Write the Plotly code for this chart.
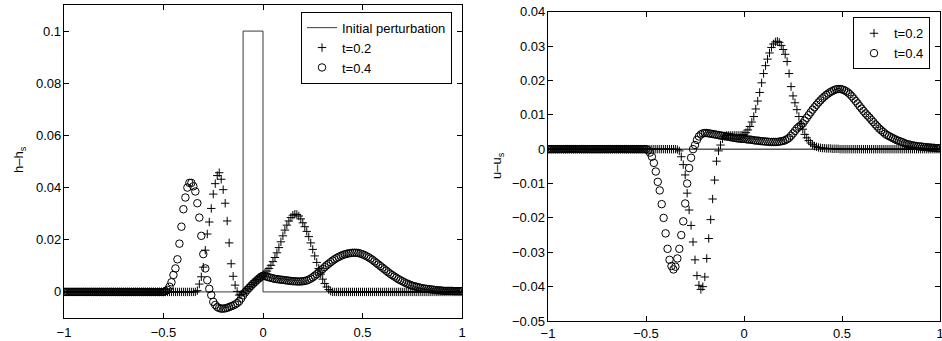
import numpy as np
import plotly.graph_objects as go

# ---------------- data ----------------
# spatial grid used by the solver (x = -1.00, -0.99, ..., 1.00)
X_GRID = np.round(np.linspace(-1.0, 1.0, 201), 2)

# initial perturbation of h (step) and of u (zero)
PERT_X = [-1.0, -0.1, 0.0, 1.0]
PERT_H = [0.0, 0.1, 0.0, 0.0]
U0_X = [-1.0, 1.0]
U0_VAL = [0.0, 0.0]

# h - h_s at t = 0.2
H_T02 = [
    0, 0, 0, 0, 0, 0, 0, 0, 0, 0,
    0, 0, 0, 0, 0, 0, 0, 0, 0, 0,
    0, 0, 0, 0, 0, 0, 0, 0, 0, 0,
    0, 0, 0, 0, 0, 0, 0, 0, 0, 0,
    0, 0, 0, 0, 0, 0, 0, 0, 0, 0,
    0, 0, 0, 0, 0, 0, 0, 0, 0, 0,
    0, 0, 0, 0, 0, 0, 0, .0005, .0030, .0058,
    .0095, .0160, .0222, .0268, .0320, .0375, .0415, .0446, .0457, .0432,
    .0392, .0340, .0272, .0188, .0108, .0060, .0026, .0002, -.0012, -.0010,
    -.0004, .0004, .0012, .0020, .0028, .0035, .0042, .0048, .0054, .0060,
    .0065, .0072, .0080, .0090, .0102, .0116, .0132, .0150, .0170, .0192,
    .0215, .0237, .0256, .0272, .0285, .0294, .0298, .0297, .0291, .0280,
    .0265, .0250, .0232, .0212, .0188, .0163, .0138, .0113, .0090, .0068,
    .0049, .0032, .0019, .0009, .0003, 0, 0, 0, 0, 0,
    0, 0, 0, 0, 0, 0, 0, 0, 0, 0,
    0, 0, 0, 0, 0, 0, 0, 0, 0, 0,
    0, 0, 0, 0, 0, 0, 0, 0, 0, 0,
    0, 0, 0, 0, 0, 0, 0, 0, 0, 0,
    0, 0, 0, 0, 0, 0, 0, 0, 0, 0,
    0, 0, 0, 0, 0, 0, 0, 0, 0, 0,
    0,
]

# h - h_s at t = 0.4
H_T04 = [
    0, 0, 0, 0, 0, 0, 0, 0, 0, 0,
    0, 0, 0, 0, 0, 0, 0, 0, 0, 0,
    0, 0, 0, 0, 0, 0, 0, 0, 0, 0,
    0, 0, 0, 0, 0, 0, 0, 0, 0, 0,
    0, 0, 0, 0, 0, 0, 0, 0, 0, 0,
    0, .0003, .0008, .0020, .0037, .0065, .0090, .0125, .0185, .0250,
    .0317, .0362, .0400, .0418, .0418, .0405, .0385, .0340, .0285, .0215,
    .0145, .0090, .0045, .0012, -.0012, -.0038, -.0050, -.0058, -.0062, -.0064,
    -.0064, -.0063, -.0061, -.0058, -.0055, -.0052, -.0048, -.0043, -.0036, -.0025,
    -.0013, -.0002, .0007, .0015, .0023, .0031, .0038, .0045, .0052, .0058,
    .0062, .0061, .0058, .0056, .0054, .0052, .0050, .0049, .0048, .0047,
    .0046, .0045, .0044, .0043, .0042, .0041, .0041, .0040, .0040, .0040,
    .0041, .0042, .0044, .0047, .0051, .0056, .0062, .0068, .0075, .0082,
    .0088, .0095, .0102, .0108, .0114, .0120, .0125, .0130, .0134, .0138,
    .0141, .0144, .0146, .0148, .0149, .0150, .0150, .0150, .0149, .0147,
    .0144, .0141, .0137, .0133, .0128, .0123, .0117, .0111, .0105, .0099,
    .0093, .0087, .0081, .0075, .0069, .0064, .0059, .0054, .0049, .0045,
    .0041, .0037, .0033, .0030, .0027, .0024, .0022, .0020, .0018, .0016,
    .0014, .0013, .0012, .0011, .0010, .0009, .0008, .0007, .0006, .0006,
    .0005, .0004, .0004, .0004, .0004, .0004, .0003, .0003, .0003, .0003,
    .0003,
]

# u - u_s at t = 0.2
U_T02 = [
    0, 0, 0, 0, 0, 0, 0, 0, 0, 0,
    0, 0, 0, 0, 0, 0, 0, 0, 0, 0,
    0, 0, 0, 0, 0, 0, 0, 0, 0, 0,
    0, 0, 0, 0, 0, 0, 0, 0, 0, 0,
    0, 0, 0, 0, 0, 0, 0, 0, 0, 0,
    0, 0, 0, 0, 0, 0, 0, 0, 0, 0,
    0, 0, 0, 0, 0, 0, -.0001, -.0005, -.0022, -.0045,
    -.0075, -.0128, -.0177, -.0222, -.0270, -.0322, -.0368, -.0396, -.0408, -.0400,
    -.0372, -.0318, -.0260, -.0205, -.0145, -.0090, -.0035, -.0005, .0012, .0030,
    .0038, .0040, .0040, .0040, .0040, .0040, .0040, .0040, .0040, .0041,
    .0043, .0048, .0056, .0066, .0079, .0095, .0117, .0140, .0165, .0193,
    .0220, .0243, .0262, .0280, .0296, .0306, .0312, .0314, .0311, .0302,
    .0290, .0276, .0255, .0220, .0182, .0155, .0135, .0115, .0095, .0074,
    .0058, .0043, .0033, .0025, .0018, .0013, .0009, .0007, .0005, .0004,
    .0003, .0003, .0002, .0002, .0002, .0001, .0001, .0001, .0001, 0,
    0, 0, 0, 0, 0, 0, 0, 0, 0, 0,
    0, 0, 0, 0, 0, 0, 0, 0, 0, 0,
    0, 0, 0, 0, 0, 0, 0, 0, 0, 0,
    0, 0, 0, 0, 0, 0, 0, 0, 0, 0,
    0, 0, 0, 0, 0, 0, 0, 0, 0, 0,
    0,
]

# u - u_s at t = 0.4
U_T04 = [
    0, 0, 0, 0, 0, 0, 0, 0, 0, 0,
    0, 0, 0, 0, 0, 0, 0, 0, 0, 0,
    0, 0, 0, 0, 0, 0, 0, 0, 0, 0,
    0, 0, 0, 0, 0, 0, 0, 0, 0, 0,
    0, 0, 0, 0, 0, 0, 0, 0, 0, 0,
    0, -.0003, -.0010, -.0022, -.0040, -.0065, -.0095, -.0120, -.0160, -.0200,
    -.0245, -.0290, -.0322, -.0340, -.0350, -.0342, -.0318, -.0290, -.0250, -.0210,
    -.0158, -.0100, -.0055, -.0025, .0000, .0012, .0027, .0037, .0043, .0046,
    .0047, .0047, .0046, .0045, .0044, .0043, .0042, .0041, .0040, .0039,
    .0038, .0037, .0036, .0035, .0034, .0033, .0032, .0031, .0031, .0030,
    .0030, .0029, .0028, .0028, .0027, .0026, .0025, .0025, .0024, .0023,
    .0023, .0022, .0022, .0021, .0021, .0021, .0021, .0021, .0022, .0023,
    .0024, .0026, .0029, .0033, .0039, .0046, .0053, .0060, .0065, .0070,
    .0075, .0083, .0091, .0099, .0107, .0115, .0122, .0129, .0136, .0142,
    .0148, .0153, .0158, .0162, .0166, .0169, .0172, .0174, .0175, .0175,
    .0174, .0172, .0169, .0165, .0160, .0154, .0147, .0140, .0133, .0125,
    .0118, .0111, .0104, .0098, .0092, .0085, .0079, .0072, .0066, .0060,
    .0055, .0050, .0045, .0041, .0038, .0035, .0032, .0029, .0026, .0024,
    .0022, .0020, .0017, .0015, .0014, .0012, .0011, .0010, .0009, .0008,
    .0008, .0007, .0006, .0006, .0005, .0005, .0004, .0004, .0003, .0003,
    .0003,
]

X_TICKS = [-1, -0.5, 0, 0.5, 1]
H_TICKS = [0, 0.02, 0.04, 0.06, 0.08, 0.1]
H_TICK_LABELS = ["0", "0.02", "0.04", "0.06", "0.08", "0.1"]
U_TICKS = [-0.05, -0.04, -0.03, -0.02, -0.01, 0, 0.01, 0.02, 0.03, 0.04]
U_TICK_LABELS = ["−0.05", "−0.04", "−0.03", "−0.02", "−0.01", "0",
                 "0.01", "0.02", "0.03", "0.04"]

for arr in (H_T02, H_T04, U_T02, U_T04):
    assert len(arr) == len(X_GRID)

# ---------------- figure ----------------
W, H = 942, 341
FONT = "Liberation Sans, Arial, Helvetica, sans-serif"
TXT = dict(family=FONT, size=13, color="black")

plus = dict(symbol="cross-thin-open", size=6, color="black",
            line=dict(color="black", width=1))
circ = dict(symbol="circle-open", size=7.5, color="black",
            line=dict(color="black", width=1))

fig = go.Figure()
fig.add_trace(go.Scatter(x=PERT_X, y=PERT_H, mode="lines", line_shape="hv",
                         line=dict(color="#3a3a3a", width=1),
                         name="Initial perturbation", xaxis="x", yaxis="y",
                         legend="legend"))
fig.add_trace(go.Scatter(x=X_GRID, y=H_T02, mode="markers", marker=plus,
                         name="t=0.2", xaxis="x", yaxis="y", legend="legend"))
fig.add_trace(go.Scatter(x=X_GRID, y=H_T04, mode="markers", marker=circ,
                         name="t=0.4", xaxis="x", yaxis="y", legend="legend"))

fig.add_trace(go.Scatter(x=U0_X, y=U0_VAL, mode="lines",
                         line=dict(color="black", width=1), showlegend=False,
                         xaxis="x2", yaxis="y2"))
fig.add_trace(go.Scatter(x=X_GRID, y=U_T02, mode="markers", marker=plus,
                         name="t=0.2", xaxis="x2", yaxis="y2", legend="legend2"))
fig.add_trace(go.Scatter(x=X_GRID, y=U_T04, mode="markers", marker=circ,
                         name="t=0.4", xaxis="x2", yaxis="y2", legend="legend2"))

axis_style = dict(showline=True, linecolor="black", linewidth=1,
                  mirror="allticks", ticks="inside", ticklen=5,
                  tickcolor="black", tickwidth=1, showgrid=False,
                  zeroline=False, automargin=False, tickfont=TXT)

# axes frames in page pixels
L1, R1, T1, B1 = 64, 462, 5, 318
L2, R2, T2, B2 = 548, 940, 11.7, 321

# y tick labels placed against each axis (right-aligned, MATLAB style)
annotations = []
for v, s in zip(H_TICKS, H_TICK_LABELS):
    annotations.append(dict(text=s, x=(L1 - 2) / W, xref="paper", y=v, yref="y",
                            xanchor="right", yanchor="middle", showarrow=False,
                            borderpad=0, font=TXT))
for v, s in zip(U_TICKS, U_TICK_LABELS):
    annotations.append(dict(text=s, x=(L2 - 2.5) / W, xref="paper", y=v, yref="y2",
                            xanchor="right", yanchor="middle", showarrow=False,
                            borderpad=0, font=TXT))
annotations += [
    dict(text="h–h<sub>s</sub>", x=19 / W, y=1 - 160 / H, xref="paper",
         yref="paper", xanchor="center", yanchor="middle", showarrow=False,
         textangle=-90, font=TXT),
    dict(text="u–u<sub>s</sub>", x=497 / W, y=1 - 166 / H, xref="paper",
         yref="paper", xanchor="center", yanchor="middle", showarrow=False,
         textangle=-90, font=TXT),
]

fig.update_layout(
    width=W, height=H,
    margin=dict(l=0, r=0, t=0, b=0),
    paper_bgcolor="white", plot_bgcolor="white",
    font=TXT,
    xaxis=dict(domain=[L1 / W, R1 / W], range=[-1, 1], tickvals=X_TICKS,
               anchor="y", ticklabelstandoff=2, ticklabeloverflow="allow",
               **axis_style),
    yaxis=dict(domain=[1 - B1 / H, 1 - T1 / H], range=[-0.01, 0.11],
               tickvals=H_TICKS, showticklabels=False, anchor="x",
               **axis_style),
    xaxis2=dict(domain=[L2 / W, R2 / W], range=[-1, 1], tickvals=X_TICKS,
                anchor="y2", ticklabeloverflow="allow", **axis_style),
    yaxis2=dict(domain=[1 - B2 / H, 1 - T2 / H], range=[-0.05, 0.04],
                tickvals=U_TICKS, showticklabels=False, anchor="x2",
                **axis_style),
    legend=dict(x=452 / W, xanchor="right", y=1 - 11.7 / H, yanchor="top",
                bgcolor="white", bordercolor="black", borderwidth=1,
                font=TXT, itemwidth=30, tracegroupgap=0),
    legend2=dict(x=930 / W, xanchor="right", y=1 - 17.3 / H, yanchor="top",
                 bgcolor="white", bordercolor="black", borderwidth=1,
                 font=TXT, itemwidth=30, tracegroupgap=0),
    showlegend=True,
    annotations=annotations,
)

# remove the default 8px page margin so the figure fills the window exactly
fig.write_html("out.html", config={"displayModeBar": False},
               post_script="document.body.style.margin='0px';")
